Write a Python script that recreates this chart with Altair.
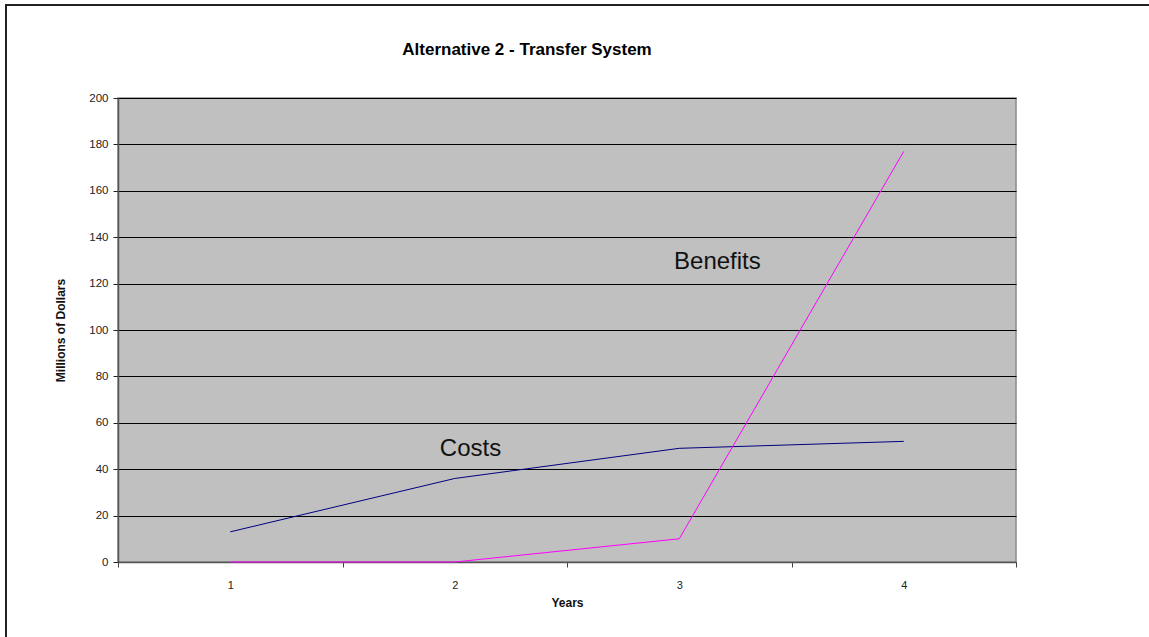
import altair as alt
import pandas as pd

# Series values (millions of dollars per year)
years = [1, 2, 3, 4]
costs = [13, 36, 49, 52]
benefits = [0, 0, 10, 177]

# In-plot series labels and where they sit (in data units)
label_text = ["Costs", "Benefits"]
label_x = [2.07, 3.17]
label_y = [48.7, 129.5]

series_names = ["Costs", "Benefits"]
series_colors = ["#000080", "#ff00ff"]

chart_title = "Alternative 2 - Transfer System"

df = pd.DataFrame(
    {
        "Year": years * 2,
        "Value": costs + benefits,
        "Series": ["Costs"] * len(years) + ["Benefits"] * len(years),
    }
)
labels_df = pd.DataFrame({"text": label_text, "x": label_x, "y": label_y})

FONT = "Liberation Sans"

x_scale = alt.Scale(domain=[0.5, 4.5], nice=False, zero=False)
y_scale = alt.Scale(domain=[0, 200], nice=False)

x_axis = alt.Axis(
    title="Years",
    values=[0.5, 1, 1.5, 2, 2.5, 3, 3.5, 4, 4.5],
    labelExpr="datum.value % 1 === 0 ? format(datum.value, 'd') : ''",
    tickOpacity={"condition": {"test": "datum.value % 1 === 0", "value": 0}, "value": 1},
    tickSize=5,
    tickColor="#444",
    domainColor="#555",
    domainWidth=1.5,
    labelPadding=12,
    labelFontSize=11,
    labelColor="#222",
    labelOverlap=False,
    labelFlush=False,
    titleFontSize=12,
    titleFontWeight="bold",
    titleColor="#111",
    titlePadding=7,
    grid=False,
)

y_axis = alt.Axis(
    title="Millions of Dollars",
    values=list(range(0, 201, 20)),
    tickSize=5,
    tickColor="#222",
    domainColor="#555",
    domainWidth=1.5,
    labelPadding=5,
    labelFontSize=11.5,
    labelColor="#222",
    titleFontSize=12,
    titleFontWeight="bold",
    titleColor="#111",
    titlePadding=21,
    grid=True,
    gridColor="#000000",
    gridWidth=1,
    gridOpacity=1,
)

# Outer chart frame
frame = (
    alt.Chart(alt.Data(values=[{}]))
    .mark_rect(fill=None, stroke="#222", strokeWidth=2, clip=False)
    .encode(
        x=alt.value(-112),
        x2=alt.value(1060),
        y=alt.value(-93),
        y2=alt.value(570),
    )
)

# Chart heading, drawn above the plot area
heading = (
    alt.Chart(alt.Data(values=[{"t": chart_title}]))
    .mark_text(
        font=FONT,
        fontSize=17,
        fontWeight="bold",
        color="#000",
        align="center",
        baseline="alphabetic",
        clip=False,
    )
    .encode(x=alt.value(409), y=alt.value(-43), text="t:N")
)

lines = (
    alt.Chart(df)
    .mark_line(strokeWidth=1)
    .encode(
        x=alt.X("Year:Q", scale=x_scale, axis=x_axis),
        y=alt.Y("Value:Q", scale=y_scale, axis=y_axis),
        color=alt.Color(
            "Series:N",
            scale=alt.Scale(domain=series_names, range=series_colors),
            legend=None,
        ),
    )
)

texts = (
    alt.Chart(labels_df)
    .mark_text(fontSize=24, font=FONT, color="#111", align="center", baseline="middle")
    .encode(
        x=alt.X("x:Q", scale=x_scale),
        y=alt.Y("y:Q", scale=y_scale),
        text="text:N",
    )
)

chart = (
    alt.layer(frame, heading, lines, texts)
    .properties(
        width=898,
        height=464,
        autosize=alt.AutoSizeParams(type="none"),
        padding={"left": 118, "top": 98, "right": 133, "bottom": 75},
        background="white",
    )
    .configure_view(fill="#c0c0c0", stroke="#8a8a8a", strokeWidth=1.5)
    .configure_axis(labelFont=FONT, titleFont=FONT)
)

chart.save("out.html", embed_options={"renderer": "svg", "actions": False})
